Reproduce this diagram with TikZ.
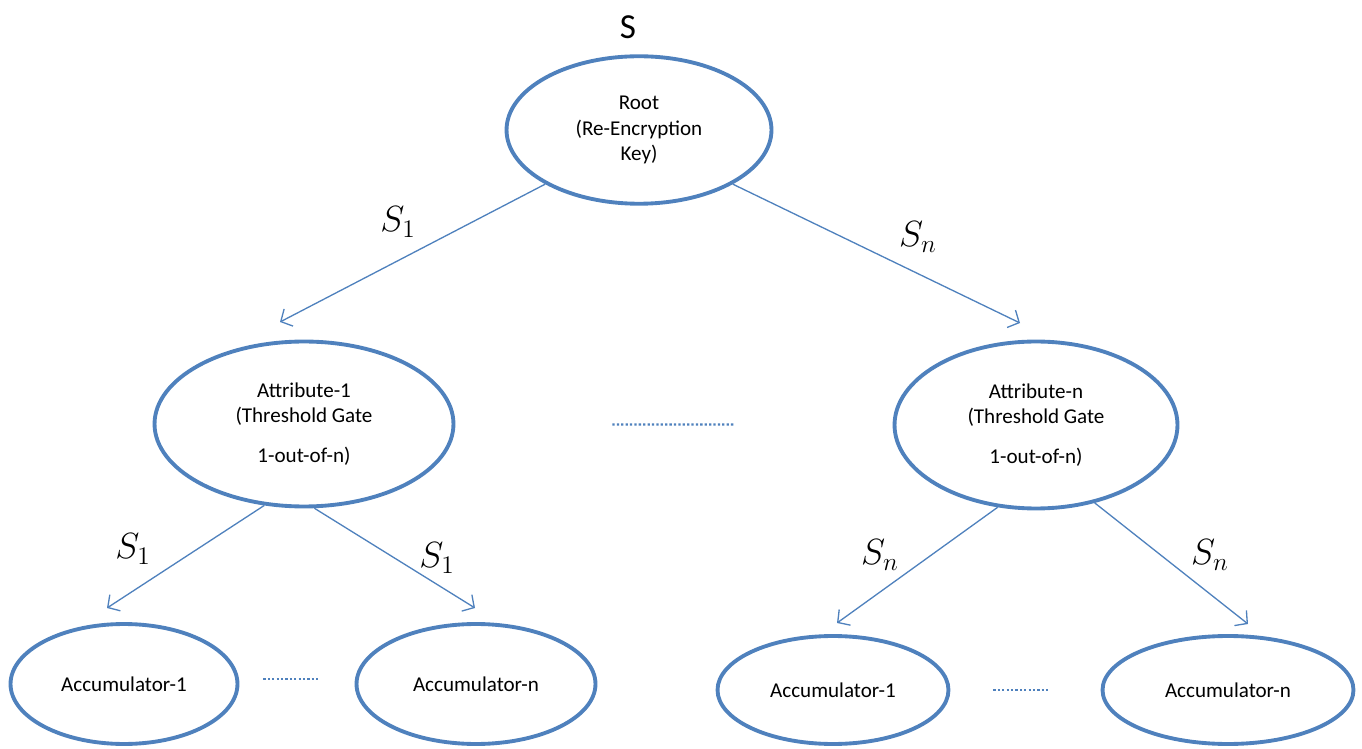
\documentclass[tikz,border=0pt]{standalone}
\usepackage{fontspec}
\setmainfont{Carlito}
\usetikzlibrary{shapes.geometric, arrows.meta}
\definecolor{blueline}{RGB}{79,129,189}

\begin{document}
\begin{tikzpicture}[x=0.02cm, y=-0.02cm,
        main/.style = {draw=blueline, ellipse, line width=2.2pt, inner sep=0pt, align=center, font=\fontsize{12}{14.4}\selectfont},
        share/.style = {font=\fontsize{22}{26}\selectfont},
        edge/.style = {draw=blueline, line width=0.75pt, -{Straight Barb[length=5pt, width=11pt]}},
        gap/.style = {draw=blueline, line width=1.3pt, dash pattern=on 1.3pt off 1.2pt}]
        \useasboundingbox (0,0) rectangle (1362,749);
        % tree nodes
        \node[main, minimum width=5.3cm, minimum height=2.95cm] (root) at (639,130) {Root\\(Re-Encryption\\Key)};
        \node[main, minimum width=5.98cm, minimum height=3.3cm] (attr1) at (304,424) {Attribute-1\\(Threshold Gate\\[8pt]1-out-of-n)};
        \node[main, minimum width=5.66cm, minimum height=3.34cm] (attrn) at (1036,425) {Attribute-n\\(Threshold Gate\\[8pt]1-out-of-n)};
        \node[main, minimum width=4.54cm, minimum height=2.4cm] (acc11) at (124,684) {Accumulator-1};
        \node[main, minimum width=4.78cm, minimum height=2.4cm] (acc1n) at (476,684) {Accumulator-n};
        \node[main, minimum width=4.62cm, minimum height=2.16cm] (accn1) at (833,690) {Accumulator-1};
        \node[main, minimum width=5.02cm, minimum height=2.16cm] (accnn) at (1228,690) {Accumulator-n};
        % secret labels
        \node[font=\fontsize{20}{24}\selectfont] (s) at (628,27) {S};
        \node[share] (s1a) at (398,222) {$S_1$};
        \node[share] (sna) at (918,237) {$S_n$};
        \node[share] (s1b) at (133,549) {$S_1$};
        \node[share] (s1c) at (437,558) {$S_1$};
        \node[share] (snb) at (880,555) {$S_n$};
        \node[share] (snc) at (1210,555) {$S_n$};
        % arrow tips
        \coordinate (t1) at (280,322);
        \coordinate (tn) at (1020,323);
        \coordinate (t11) at (107,608);
        \coordinate (t1n) at (475,608);
        \coordinate (tn1) at (837,623);
        \coordinate (tnn) at (1248,624);
        \draw[edge] (root.210) -- (t1);
        \draw[edge] (root.330) -- (tn);
        \draw[edge] (attr1.244) -- (t11);
        \draw[edge] (attr1.277) -- (t1n);
        \draw[edge] (attrn.245) -- (tn1);
        \draw[edge] (attrn.307) -- (tnn);
        % dotted gaps
        \draw[gap, shorten <=3.14cm, shorten >=3.16cm] (attr1) -- (attrn);
        \draw[gap, shorten <=0.48cm, shorten >=0.74cm] ([yshift=0.1cm]acc11.east) -- ([yshift=0.1cm]acc1n.west);
        \draw[gap, shorten <=0.86cm, shorten >=1.02cm] (accn1.east) -- (accnn.west);
\end{tikzpicture}
\end{document}
